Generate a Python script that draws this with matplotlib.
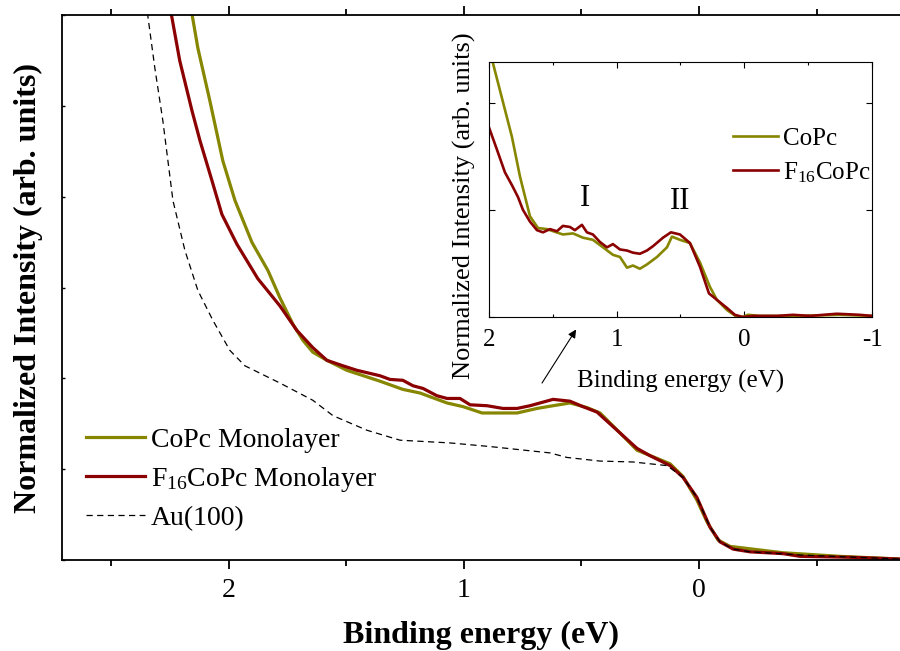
import matplotlib
matplotlib.use("Agg")
import matplotlib.pyplot as plt
from matplotlib.ticker import MultipleLocator

plt.rcParams["font.family"] = ["Liberation Serif", "DejaVu Serif"]
plt.rcParams["mathtext.fontset"] = "custom"
plt.rcParams["mathtext.rm"] = "Liberation Serif"
plt.rcParams["mathtext.it"] = "Liberation Serif:italic"

OLIVE = "#868600"
DRED = "#8b0000"

# ---- main panel data (binding energy in eV, normalized intensity) ----
copc_x = [2.166, 2.132, 2.081, 2.026, 1.974, 1.902, 1.834, 1.783, 1.728, 1.685, 1.643,
          1.583, 1.498, 1.357, 1.260, 1.187, 1.072, 1.004, 0.923, 0.834, 0.774, 0.689,
          0.621, 0.549, 0.477, 0.421, 0.336, 0.264, 0.179, 0.123, 0.068, 0.009, -0.034,
          -0.081, -0.132, -0.260, -0.357, -0.60, -0.86]
copc_y = [6.15, 5.64, 5.06, 4.40, 3.96, 3.50, 3.19, 2.89, 2.60, 2.42, 2.29,
          2.20, 2.09, 1.97, 1.88, 1.84, 1.73, 1.69, 1.62, 1.62, 1.62, 1.67,
          1.70, 1.73, 1.68, 1.62, 1.40, 1.21, 1.12, 1.06, 0.92, 0.66, 0.42,
          0.22, 0.15, 0.11, 0.08, 0.04, 0.01]

f16_x = [2.251, 2.209, 2.157, 2.123, 2.072, 2.030, 1.966, 1.877, 1.783, 1.711, 1.643,
         1.583, 1.515, 1.455, 1.357, 1.315, 1.260, 1.217, 1.174, 1.115, 1.072, 1.017,
         0.974, 0.902, 0.834, 0.774, 0.719, 0.677, 0.621, 0.549, 0.494, 0.434, 0.349,
         0.264, 0.209, 0.123, 0.068, 0.009, -0.047, -0.089, -0.145, -0.217, -0.357,
         -0.430, -0.643, -0.86]
f16_y = [6.10, 5.50, 4.95, 4.62, 4.18, 3.81, 3.48, 3.10, 2.80, 2.53, 2.34,
         2.20, 2.14, 2.09, 2.03, 1.99, 1.98, 1.92, 1.89, 1.81, 1.78, 1.78,
         1.71, 1.70, 1.67, 1.67, 1.70, 1.73, 1.77, 1.75, 1.69, 1.63, 1.43,
         1.23, 1.15, 1.04, 0.91, 0.69, 0.36, 0.20, 0.12, 0.09, 0.07,
         0.04, 0.03, 0.01]

au_x = [2.353, 2.315, 2.281, 2.238, 2.187, 2.132, 2.068, 1.996, 1.932, 1.783, 1.643,
        1.557, 1.413, 1.272, 1.060, 0.889, 0.634, 0.562, 0.421, 0.281, 0.136, 0.068,
        0.009, -0.047, -0.089, -0.145, -0.217, -0.430, -0.86]
au_y = [6.15, 5.42, 4.84, 3.96, 3.41, 2.97, 2.64, 2.31, 2.14, 1.95, 1.76,
        1.59, 1.43, 1.32, 1.29, 1.25, 1.18, 1.13, 1.09, 1.08, 1.04, 0.91,
        0.69, 0.36, 0.20, 0.12, 0.09, 0.055, 0.01]

# ---- inset data ----
in_copc_x = [1.984, 1.969, 1.820, 1.757, 1.679, 1.616, 1.546, 1.421, 1.342, 1.264, 1.186,
             1.107, 1.029, 0.974, 0.919, 0.872, 0.818, 0.763, 0.684, 0.606, 0.567, 0.504,
             0.426, 0.348, 0.269, 0.215, 0.136, 0.058, 0.011, -0.028, -0.122, -0.435,
             -0.749, -1.0]
in_copc_y = [2.42, 2.37, 1.68, 1.31, 0.94, 0.83, 0.82, 0.77, 0.78, 0.74, 0.72,
             0.65, 0.58, 0.56, 0.46, 0.48, 0.45, 0.49, 0.56, 0.65, 0.75, 0.72,
             0.69, 0.51, 0.28, 0.16, 0.065, 0.0, 0.0, 0.02, 0.01, 0.01,
             0.02, 0.01]

in_f16_x = [2.0, 1.937, 1.875, 1.820, 1.773, 1.734, 1.679, 1.624, 1.577, 1.522, 1.468,
            1.421, 1.366, 1.327, 1.272, 1.233, 1.186, 1.131, 1.076, 1.029, 0.974, 0.919,
            0.872, 0.818, 0.763, 0.716, 0.637, 0.575, 0.504, 0.426, 0.348, 0.277, 0.215,
            0.136, 0.074, 0.011, -0.067, -0.255, -0.381, -0.514, -0.725, -0.905, -1.0]
in_f16_y = [1.77, 1.56, 1.35, 1.23, 1.12, 1.00, 0.89, 0.81, 0.79, 0.82, 0.80,
            0.85, 0.84, 0.81, 0.86, 0.79, 0.77, 0.70, 0.65, 0.68, 0.63, 0.62,
            0.60, 0.59, 0.62, 0.66, 0.74, 0.79, 0.77, 0.69, 0.47, 0.22, 0.16,
            0.084, 0.02, 0.0, 0.01, 0.01, 0.02, 0.01, 0.03, 0.02, 0.01]

fig = plt.figure(figsize=(9, 6.51), dpi=100)
ax = fig.add_axes([0.0689, 0.1398, 0.9311, 0.8364])
ax.plot(copc_x, copc_y, color=OLIVE, lw=2.3, label="CoPc Monolayer")
ax.plot(f16_x, f16_y, color=DRED, lw=2.3, label="F$_{16}$CoPc Monolayer")
ax.plot(au_x, au_y, color="black", lw=0.9, ls=(0, (5, 3.5)), label="Au(100)")
ax.set_xlim(2.71, -0.855)
ax.set_ylim(0, 6)
ax.spines["right"].set_visible(False)
for s in ["left", "top", "bottom"]:
    ax.spines[s].set_linewidth(1.3)
ax.xaxis.set_major_locator(MultipleLocator(1))
ax.xaxis.set_minor_locator(MultipleLocator(0.5))
ax.yaxis.set_major_locator(MultipleLocator(1))
ax.tick_params(axis="x", which="both", direction="out", top=True, labelsize=20, width=1.3)
ax.tick_params(axis="x", which="major", length=6.5, pad=6.5)
ax.tick_params(axis="x", which="minor", length=4)
ax.tick_params(axis="y", direction="in", length=2.5, width=1.0, labelleft=False)
ax.set_xlabel("Binding energy (eV)", fontsize=23, fontweight="bold", labelpad=13)
ax.set_ylabel("Normalized Intensity (arb. units)", fontsize=23, fontweight="bold", labelpad=14)
ax.legend(loc="upper left", bbox_to_anchor=(0.095, 0.343), bbox_transform=fig.transFigure,
          frameon=False, fontsize=20, handlelength=2.15, handletextpad=0.2,
          labelspacing=0.42, borderpad=0, borderaxespad=0)

# arrow pointing at the inset
ax.annotate("", xy=(0.523, 2.54), xytext=(0.668, 1.95),
            arrowprops=dict(arrowstyle="-|>", color="black", lw=0.8,
                            mutation_scale=12, shrinkA=0, shrinkB=0))

# ---- inset ----
axi = fig.add_axes([0.5433, 0.5131, 0.4256, 0.3917])
axi.plot(in_copc_x, in_copc_y, color=OLIVE, lw=1.9, label="CoPc")
axi.plot(in_f16_x, in_f16_y, color=DRED, lw=1.9, label="F$_{16}$CoPc")
axi.set_xlim(2, -1)
axi.set_ylim(0, 2.38)
for s in axi.spines.values():
    s.set_linewidth(0.8)
axi.xaxis.set_major_locator(MultipleLocator(1))
axi.xaxis.set_minor_locator(MultipleLocator(0.5))
axi.yaxis.set_major_locator(MultipleLocator(1))
axi.set_xticks([2, 1, 0, -1], ["2", "1", "0", "-1"])
axi.tick_params(which="both", direction="in", top=True, right=True, width=0.8)
axi.tick_params(which="major", length=4, labelsize=18, pad=8.5)
axi.tick_params(which="minor", length=2.5)
axi.tick_params(axis="y", labelleft=False)
axi.set_xlabel("Binding energy (eV)", fontsize=18, labelpad=14)
axi.set_ylabel("Normalized Intensity (arb. units)", fontsize=19)
axi.yaxis.set_label_coords(-0.035, 0.435)
axi.text(1.25, 1.11, "I", fontsize=22, ha="center", va="center")
axi.text(0.50, 1.08, "II", fontsize=22, ha="center", va="center")
axi.legend(loc="upper left", bbox_to_anchor=(0.814, 0.804), bbox_transform=fig.transFigure,
           frameon=False, fontsize=18, handlelength=1.8, handletextpad=0.2,
           labelspacing=0.4, borderpad=0, borderaxespad=0)

fig.savefig("out.png", dpi=100)
